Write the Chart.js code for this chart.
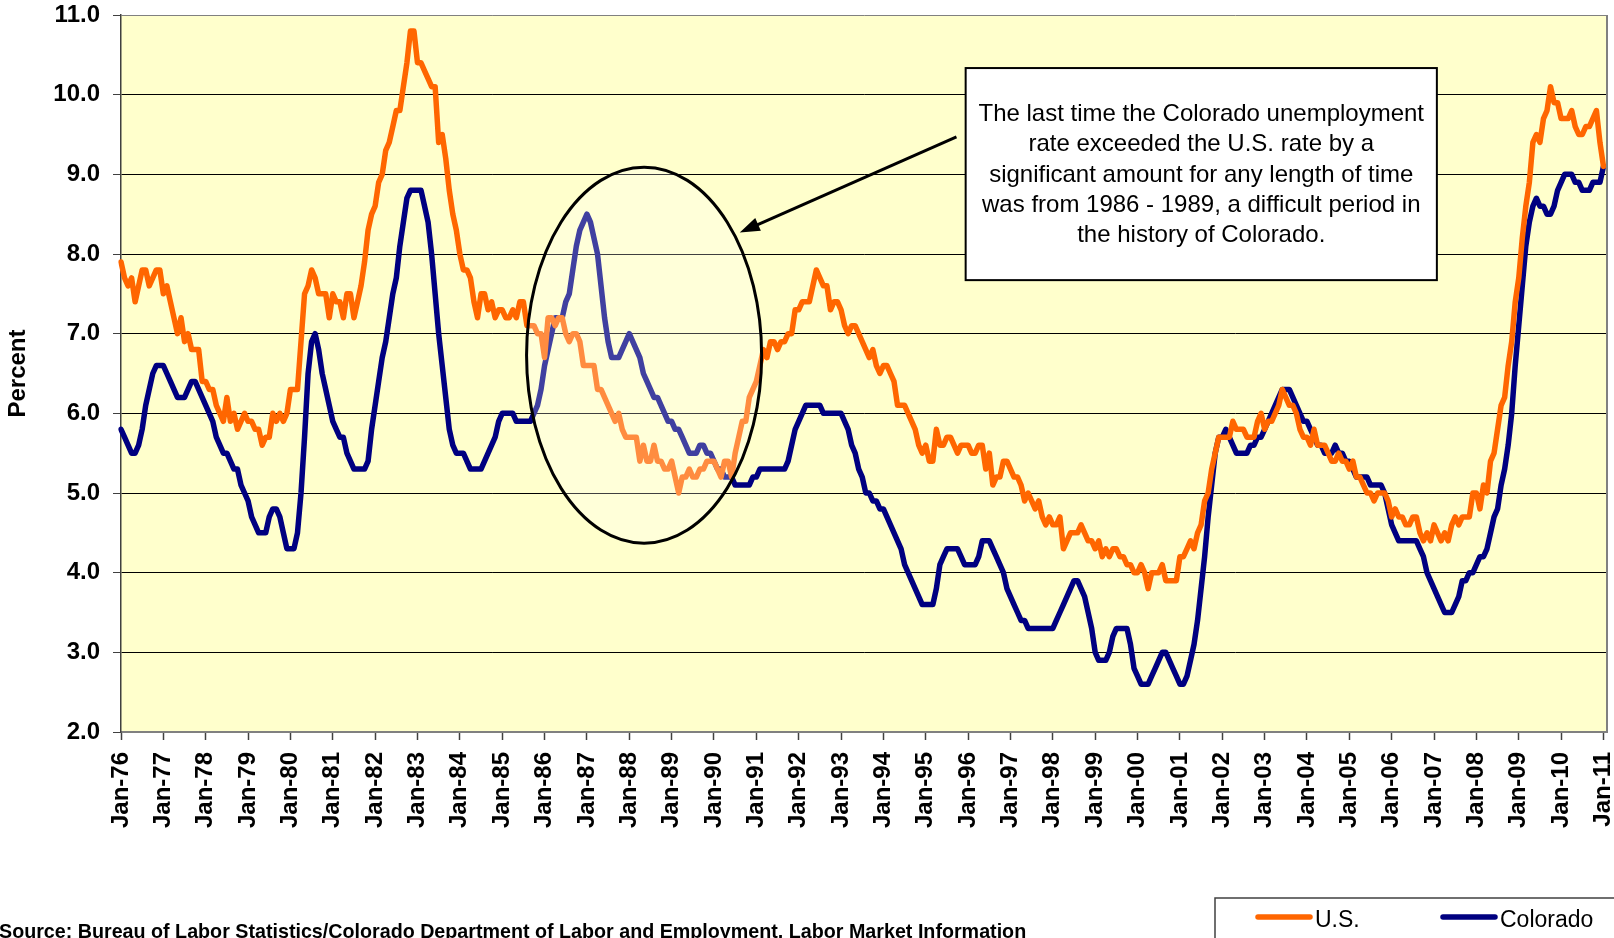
<!DOCTYPE html>
<html>
<head>
<meta charset="utf-8">
<title>Colorado and U.S. unemployment rate</title>
<script src="https://cdn.jsdelivr.net/npm/chart.js@4.4.1/dist/chart.umd.min.js"></script>
<style>
  html, body { margin: 0; padding: 0; background: #fff; }
  #chart { display: block; }
</style>
</head>
<body>
<canvas id="chart" width="1614" height="938"></canvas>
<script>
// monthly unemployment rate, Jan-76 .. Jan-11 (percent)
const usRate = [
  7.9, 7.7, 7.6, 7.7, 7.4, 7.6, 7.8, 7.8, 7.6, 7.7, 7.8, 7.8,    // 1976
  7.5, 7.6, 7.4, 7.2, 7.0, 7.2, 6.9, 7.0, 6.8, 6.8, 6.8, 6.4,    // 1977
  6.4, 6.3, 6.3, 6.1, 6.0, 5.9, 6.2, 5.9, 6.0, 5.8, 5.9, 6.0,    // 1978
  5.9, 5.9, 5.8, 5.8, 5.6, 5.7, 5.7, 6.0, 5.9, 6.0, 5.9, 6.0,    // 1979
  6.3, 6.3, 6.3, 6.9, 7.5, 7.6, 7.8, 7.7, 7.5, 7.5, 7.5, 7.2,    // 1980
  7.5, 7.4, 7.4, 7.2, 7.5, 7.5, 7.2, 7.4, 7.6, 7.9, 8.3, 8.5,    // 1981
  8.6, 8.9, 9.0, 9.3, 9.4, 9.6, 9.8, 9.8, 10.1, 10.4, 10.8, 10.8, // 1982
  10.4, 10.4, 10.3, 10.2, 10.1, 10.1, 9.4, 9.5, 9.2, 8.8, 8.5, 8.3, // 1983
  8.0, 7.8, 7.8, 7.7, 7.4, 7.2, 7.5, 7.5, 7.3, 7.4, 7.2, 7.3,    // 1984
  7.3, 7.2, 7.2, 7.3, 7.2, 7.4, 7.4, 7.1, 7.1, 7.1, 7.0, 7.0,    // 1985
  6.7, 7.2, 7.2, 7.1, 7.2, 7.2, 7.0, 6.9, 7.0, 7.0, 6.9, 6.6,    // 1986
  6.6, 6.6, 6.6, 6.3, 6.3, 6.2, 6.1, 6.0, 5.9, 6.0, 5.8, 5.7,    // 1987
  5.7, 5.7, 5.7, 5.4, 5.6, 5.4, 5.4, 5.6, 5.4, 5.4, 5.3, 5.3,    // 1988
  5.4, 5.2, 5.0, 5.2, 5.2, 5.3, 5.2, 5.2, 5.3, 5.3, 5.4, 5.4,    // 1989
  5.4, 5.3, 5.2, 5.4, 5.4, 5.2, 5.5, 5.7, 5.9, 5.9, 6.2, 6.3,    // 1990
  6.4, 6.6, 6.8, 6.7, 6.9, 6.9, 6.8, 6.9, 6.9, 7.0, 7.0, 7.3,    // 1991
  7.3, 7.4, 7.4, 7.4, 7.6, 7.8, 7.7, 7.6, 7.6, 7.3, 7.4, 7.4,    // 1992
  7.3, 7.1, 7.0, 7.1, 7.1, 7.0, 6.9, 6.8, 6.7, 6.8, 6.6, 6.5,    // 1993
  6.6, 6.6, 6.5, 6.4, 6.1, 6.1, 6.1, 6.0, 5.9, 5.8, 5.6, 5.5,    // 1994
  5.6, 5.4, 5.4, 5.8, 5.6, 5.6, 5.7, 5.7, 5.6, 5.5, 5.6, 5.6,    // 1995
  5.6, 5.5, 5.5, 5.6, 5.6, 5.3, 5.5, 5.1, 5.2, 5.2, 5.4, 5.4,    // 1996
  5.3, 5.2, 5.2, 5.1, 4.9, 5.0, 4.9, 4.8, 4.9, 4.7, 4.6, 4.7,    // 1997
  4.6, 4.6, 4.7, 4.3, 4.4, 4.5, 4.5, 4.5, 4.6, 4.5, 4.4, 4.4,    // 1998
  4.3, 4.4, 4.2, 4.3, 4.2, 4.3, 4.3, 4.2, 4.2, 4.1, 4.1, 4.0,    // 1999
  4.0, 4.1, 4.0, 3.8, 4.0, 4.0, 4.0, 4.1, 3.9, 3.9, 3.9, 3.9,    // 2000
  4.2, 4.2, 4.3, 4.4, 4.3, 4.5, 4.6, 4.9, 5.0, 5.3, 5.5, 5.7,    // 2001
  5.7, 5.7, 5.7, 5.9, 5.8, 5.8, 5.8, 5.7, 5.7, 5.7, 5.9, 6.0,    // 2002
  5.8, 5.9, 5.9, 6.0, 6.1, 6.3, 6.2, 6.1, 6.1, 6.0, 5.8, 5.7,    // 2003
  5.7, 5.6, 5.8, 5.6, 5.6, 5.6, 5.5, 5.4, 5.4, 5.5, 5.4, 5.4,    // 2004
  5.3, 5.4, 5.2, 5.2, 5.1, 5.0, 5.0, 4.9, 5.0, 5.0, 5.0, 4.9,    // 2005
  4.7, 4.8, 4.7, 4.7, 4.6, 4.6, 4.7, 4.7, 4.5, 4.4, 4.5, 4.4,    // 2006
  4.6, 4.5, 4.4, 4.5, 4.4, 4.6, 4.7, 4.6, 4.7, 4.7, 4.7, 5.0,    // 2007
  5.0, 4.8, 5.1, 5.0, 5.4, 5.5, 5.8, 6.1, 6.2, 6.6, 6.9, 7.4,    // 2008
  7.7, 8.2, 8.6, 8.9, 9.4, 9.5, 9.4, 9.7, 9.8, 10.1, 9.9, 9.9,   // 2009
  9.7, 9.7, 9.7, 9.8, 9.6, 9.5, 9.5, 9.6, 9.6, 9.7, 9.8, 9.4,    // 2010
  9.1                                                            // 2011
];

const coRate = [
  5.8, 5.7, 5.6, 5.5, 5.5, 5.6, 5.8, 6.1, 6.3, 6.5, 6.6, 6.6,    // 1976
  6.6, 6.5, 6.4, 6.3, 6.2, 6.2, 6.2, 6.3, 6.4, 6.4, 6.3, 6.2,    // 1977
  6.1, 6.0, 5.9, 5.7, 5.6, 5.5, 5.5, 5.4, 5.3, 5.3, 5.1, 5.0,    // 1978
  4.9, 4.7, 4.6, 4.5, 4.5, 4.5, 4.7, 4.8, 4.8, 4.7, 4.5, 4.3,    // 1979
  4.3, 4.3, 4.5, 5.0, 5.7, 6.5, 6.9, 7.0, 6.8, 6.5, 6.3, 6.1,    // 1980
  5.9, 5.8, 5.7, 5.7, 5.5, 5.4, 5.3, 5.3, 5.3, 5.3, 5.4, 5.8,    // 1981
  6.1, 6.4, 6.7, 6.9, 7.2, 7.5, 7.7, 8.1, 8.4, 8.7, 8.8, 8.8,    // 1982
  8.8, 8.8, 8.6, 8.4, 8.0, 7.5, 7.0, 6.6, 6.2, 5.8, 5.6, 5.5,    // 1983
  5.5, 5.5, 5.4, 5.3, 5.3, 5.3, 5.3, 5.4, 5.5, 5.6, 5.7, 5.9,    // 1984
  6.0, 6.0, 6.0, 6.0, 5.9, 5.9, 5.9, 5.9, 5.9, 6.0, 6.1, 6.3,    // 1985
  6.6, 6.8, 7.0, 7.2, 7.2, 7.2, 7.4, 7.5, 7.8, 8.1, 8.3, 8.4,    // 1986
  8.5, 8.4, 8.2, 8.0, 7.6, 7.2, 6.9, 6.7, 6.7, 6.7, 6.8, 6.9,    // 1987
  7.0, 6.9, 6.8, 6.7, 6.5, 6.4, 6.3, 6.2, 6.2, 6.1, 6.0, 5.9,    // 1988
  5.9, 5.8, 5.8, 5.7, 5.6, 5.5, 5.5, 5.5, 5.6, 5.6, 5.5, 5.5,    // 1989
  5.4, 5.3, 5.3, 5.2, 5.2, 5.2, 5.1, 5.1, 5.1, 5.1, 5.1, 5.2,    // 1990
  5.2, 5.3, 5.3, 5.3, 5.3, 5.3, 5.3, 5.3, 5.3, 5.4, 5.6, 5.8,    // 1991
  5.9, 6.0, 6.1, 6.1, 6.1, 6.1, 6.1, 6.0, 6.0, 6.0, 6.0, 6.0,    // 1992
  6.0, 5.9, 5.8, 5.6, 5.5, 5.3, 5.2, 5.0, 5.0, 4.9, 4.9, 4.8,    // 1993
  4.8, 4.7, 4.6, 4.5, 4.4, 4.3, 4.1, 4.0, 3.9, 3.8, 3.7, 3.6,    // 1994
  3.6, 3.6, 3.6, 3.8, 4.1, 4.2, 4.3, 4.3, 4.3, 4.3, 4.2, 4.1,    // 1995
  4.1, 4.1, 4.1, 4.2, 4.4, 4.4, 4.4, 4.3, 4.2, 4.1, 4.0, 3.8,    // 1996
  3.7, 3.6, 3.5, 3.4, 3.4, 3.3, 3.3, 3.3, 3.3, 3.3, 3.3, 3.3,    // 1997
  3.3, 3.4, 3.5, 3.6, 3.7, 3.8, 3.9, 3.9, 3.8, 3.7, 3.5, 3.3,    // 1998
  3.0, 2.9, 2.9, 2.9, 3.0, 3.2, 3.3, 3.3, 3.3, 3.3, 3.1, 2.8,    // 1999
  2.7, 2.6, 2.6, 2.6, 2.7, 2.8, 2.9, 3.0, 3.0, 2.9, 2.8, 2.7,    // 2000
  2.6, 2.6, 2.7, 2.9, 3.1, 3.4, 3.8, 4.2, 4.7, 5.1, 5.5, 5.7,    // 2001
  5.7, 5.8, 5.7, 5.6, 5.5, 5.5, 5.5, 5.5, 5.6, 5.6, 5.7, 5.7,    // 2002
  5.8, 5.9, 6.0, 6.1, 6.2, 6.3, 6.3, 6.3, 6.2, 6.1, 6.0, 5.9,    // 2003
  5.9, 5.8, 5.7, 5.6, 5.6, 5.5, 5.5, 5.5, 5.6, 5.5, 5.5, 5.4,    // 2004
  5.4, 5.3, 5.2, 5.2, 5.2, 5.2, 5.1, 5.1, 5.1, 5.1, 5.0, 4.8,    // 2005
  4.6, 4.5, 4.4, 4.4, 4.4, 4.4, 4.4, 4.4, 4.3, 4.2, 4.0, 3.9,    // 2006
  3.8, 3.7, 3.6, 3.5, 3.5, 3.5, 3.6, 3.7, 3.9, 3.9, 4.0, 4.0,    // 2007
  4.1, 4.2, 4.2, 4.3, 4.5, 4.7, 4.8, 5.1, 5.3, 5.6, 6.0, 6.6,    // 2008
  7.1, 7.6, 8.1, 8.4, 8.6, 8.7, 8.6, 8.6, 8.5, 8.5, 8.6, 8.8,    // 2009
  8.9, 9.0, 9.0, 9.0, 8.9, 8.9, 8.8, 8.8, 8.8, 8.9, 8.9, 8.9,    // 2010
  9.1                                                            // 2011
];

const monthNames = ['Jan', 'Feb', 'Mar', 'Apr', 'May', 'Jun', 'Jul', 'Aug', 'Sep', 'Oct', 'Nov', 'Dec'];
const firstYear = 1976;
const monthCount = 422; // axis runs one month past the last value (Feb-11)

const yTicks = [2, 3, 4, 5, 6, 7, 8, 9, 10, 11];

const noteLines = [
  'The last time the Colorado unemployment',
  'rate exceeded the U.S. rate by a',
  'significant amount for any length of time',
  'was from 1986 - 1989, a difficult period in',
  'the history of Colorado.'
];
const sourceText = 'Source: Bureau of Labor Statistics/Colorado Department of Labor and Employment, Labor Market Information';

const monthLabels = [];
for (let i = 0; i < monthCount; i++) {
  const year = firstYear + Math.floor(i / 12);
  monthLabels.push(monthNames[i % 12] + '-' + String(year).slice(-2));
}

const FONT = '"Liberation Sans", Arial, Helvetica, sans-serif';
Chart.defaults.font.family = FONT;
Chart.defaults.color = '#000';

const plotBackground = {
  id: 'plotBackground',
  beforeDraw(chart) {
    const { ctx, chartArea: a } = chart;
    ctx.save();
    ctx.fillStyle = '#FFFFCC';
    ctx.fillRect(a.left, a.top, a.width, a.height);
    ctx.restore();
  },
  afterDraw(chart) {
    const { ctx, chartArea: a } = chart;
    ctx.save();
    ctx.strokeStyle = '#808080';
    ctx.lineWidth = 2;
    ctx.beginPath();
    ctx.moveTo(a.right, a.top);
    ctx.lineTo(a.right, a.bottom);
    ctx.stroke();
    ctx.restore();
  }
};

// ellipse around 1986-89, arrow and note box
const noteLayer = {
  id: 'noteLayer',
  afterDatasetsDraw(chart) {
    const { ctx } = chart;
    const x = chart.scales.x, y = chart.scales.y;
    const px = v => x.getPixelForValue(v);
    const py = v => y.getPixelForValue(v);

    ctx.save();
    // ellipse
    const cx = px(148.2), cy = py(6.73);
    const rx = px(148.2 + 33.3) - cx;
    const ry = py(6.73 - 2.36) - cy;
    ctx.beginPath();
    ctx.ellipse(cx, cy, rx, ry, 0, 0, Math.PI * 2);
    ctx.fillStyle = 'rgba(255,255,255,0.25)';
    ctx.fill();
    ctx.lineWidth = 3;
    ctx.strokeStyle = '#000';
    ctx.stroke();

    // arrow
    const x0 = px(236.7), y0 = py(9.47);
    const x1 = px(175.3), y1 = py(8.27);
    const ang = Math.atan2(y1 - y0, x1 - x0);
    const head = 20, half = 7;
    ctx.beginPath();
    ctx.moveTo(x0, y0);
    ctx.lineTo(x1 - Math.cos(ang) * head * 0.8, y1 - Math.sin(ang) * head * 0.8);
    ctx.lineWidth = 3;
    ctx.stroke();
    ctx.beginPath();
    ctx.moveTo(x1, y1);
    ctx.lineTo(x1 - Math.cos(ang) * head + Math.sin(ang) * half, y1 - Math.sin(ang) * head - Math.cos(ang) * half);
    ctx.lineTo(x1 - Math.cos(ang) * head - Math.sin(ang) * half, y1 - Math.sin(ang) * head + Math.cos(ang) * half);
    ctx.closePath();
    ctx.fillStyle = '#000';
    ctx.fill();

    // note box
    const bl = px(239.3), br = px(372.8), bt = py(10.334), bb = py(7.672);
    ctx.fillStyle = '#fff';
    ctx.fillRect(bl, bt, br - bl, bb - bt);
    ctx.lineWidth = 2;
    ctx.strokeStyle = '#000';
    ctx.strokeRect(bl, bt, br - bl, bb - bt);
    ctx.fillStyle = '#000';
    ctx.font = '24px ' + FONT;
    ctx.textAlign = 'center';
    ctx.textBaseline = 'alphabetic';
    noteLines.forEach((line, i) => {
      ctx.fillText(line, (bl + br) / 2, bt + 53 + i * 30.3);
    });
    ctx.restore();
  }
};

// legend box at bottom right and source line
const footer = {
  id: 'footer',
  afterDraw(chart) {
    const { ctx } = chart;
    ctx.save();
    ctx.strokeStyle = '#404040';
    ctx.lineWidth = 1.5;
    ctx.strokeRect(1215, 898, 450, 100);

    const items = chart.data.datasets;
    const slots = [1258, 1443];
    ctx.font = '23px ' + FONT;
    ctx.textBaseline = 'alphabetic';
    ctx.textAlign = 'left';
    items.forEach((ds, i) => {
      const sx = slots[i];
      ctx.beginPath();
      ctx.moveTo(sx, 917);
      ctx.lineTo(sx + 52, 917);
      ctx.strokeStyle = ds.borderColor;
      ctx.lineWidth = 5.5;
      ctx.lineCap = 'round';
      ctx.stroke();
      ctx.fillStyle = '#000';
      ctx.fillText(ds.label, sx + 57, 927);
    });

    ctx.font = 'bold 19.7px ' + FONT;
    ctx.fillText(sourceText, -1, 938);
    ctx.restore();
  }
};

new Chart(document.getElementById('chart'), {
  type: 'line',
  data: {
    labels: monthLabels,
    datasets: [
      {
        label: 'U.S.',
        data: usRate,
        borderColor: '#FF6600',
        borderWidth: 5.5,
        pointRadius: 0,
        tension: 0,
        borderJoinStyle: 'round',
        borderCapStyle: 'round'
      },
      {
        label: 'Colorado',
        data: coRate,
        borderColor: '#000080',
        borderWidth: 5.5,
        pointRadius: 0,
        tension: 0,
        borderJoinStyle: 'round',
        borderCapStyle: 'round'
      }
    ]
  },
  options: {
    responsive: false,
    animation: false,
    layout: { padding: { top: 15, right: 7, left: 0, bottom: 0 } },
    plugins: {
      legend: { display: false },
      tooltip: { enabled: false }
    },
    scales: {
      x: {
        type: 'category',
        offset: false,
        afterFit(scale) {
          scale.height = 206;
          scale.paddingLeft = 0;
          scale.paddingRight = 0;
        },
        border: { display: true, color: '#808080', width: 2 },
        grid: {
          drawOnChartArea: false,
          drawTicks: true,
          tickLength: 8,
          tickWidth: 1.5,
          tickColor: c => (c.index % 12 === 0 ? '#404040' : 'rgba(0,0,0,0)')
        },
        ticks: {
          autoSkip: false,
          minRotation: 90,
          maxRotation: 90,
          padding: 12,
          font: { size: 24, weight: 'bold' },
          callback(value, index) {
            return index % 12 === 0 ? this.getLabelForValue(value) : '';
          }
        }
      },
      y: {
        min: 2,
        max: 11,
        afterFit(scale) {
          scale.width = 121;
          scale.paddingTop = 0;
          scale.paddingBottom = 0;
        },
        afterBuildTicks(scale) { scale.ticks = yTicks.map(v => ({ value: v })); },
        border: { display: true, color: '#404040', width: 1.5 },
        grid: {
          color: c => (c.tick && c.tick.value === 11 ? '#808080' : '#000'),
          lineWidth: 1,
          drawTicks: true,
          tickLength: 8,
          tickColor: '#404040'
        },
        ticks: {
          padding: 13,
          font: { size: 24, weight: 'bold' },
          callback: v => v.toFixed(1)
        },
        title: {
          display: true,
          text: 'Percent',
          font: { size: 24, weight: 'bold' },
          padding: { top: 4, bottom: 0 }
        }
      }
    }
  },
  plugins: [plotBackground, noteLayer, footer]
});
</script>
</body>
</html>
